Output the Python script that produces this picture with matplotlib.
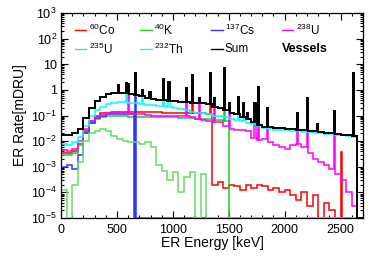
import numpy as np
import matplotlib
matplotlib.use('Agg')
import matplotlib.pyplot as plt
from matplotlib.lines import Line2D

plt.rcParams['font.family'] = 'Liberation Sans'
plt.rcParams['mathtext.fontset'] = 'custom'
plt.rcParams['mathtext.rm'] = 'Liberation Sans'
plt.rcParams['mathtext.it'] = 'Liberation Sans:italic'
plt.rcParams['mathtext.bf'] = 'Liberation Sans:bold'

# 50 keV bins from 0 to 2700 keV, rates in mDRU (0 = empty bin)
bin_edges = np.arange(0, 2701, 50)

co60 = [0.0035, 0.0035, 0.004, 0.008, 0.025, 0.06, 0.1, 0.12, 0.13, 0.14,
        0.14, 0.14, 0.14, 0.14, 0.14, 0.14, 0.135, 0.135, 0.13, 0.13,
        0.13, 0.13, 0.125, 0.12, 0.12, 0.12, 0.115, 0.0002, 0.00025, 0.00015,
        0.0002, 0.00018, 0.00012, 0.0002, 0.00015, 0.0002, 0.00018, 0.00012, 0.00015, 0.0001,
        0.00012, 0.00008, 0.00005, 0.0001, 0.00003, 0.00008, 0, 0.00004, 0.00002, 0,
        0, 0, 0, 0]
k40 = [0.0028, 0.003, 0.0035, 0.007, 0.02, 0.05, 0.075, 0.09, 0.095, 0.095,
       0.095, 0.095, 0.09, 0.09, 0.09, 0.09, 0.088, 0.088, 0.085, 0.085,
       0.085, 0.082, 0.08, 0.078, 0.075, 0.072, 0.07, 0.068, 0.065, 0.06,
       0, 0, 0, 0, 0, 0, 0, 0, 0, 0,
       0, 0, 0, 0, 0, 0, 0, 0, 0, 0,
       0, 0, 0, 0]
cs137 = [0.001, 0.0012, 0.0008, 0.003, 0.02, 0.05, 0.08, 0.1, 0.11, 0.11,
         0.11, 0.11, 0.11, 0, 0, 0, 0, 0, 0, 0,
         0, 0, 0, 0, 0, 0, 0, 0, 0, 0,
         0, 0, 0, 0, 0, 0, 0, 0, 0, 0,
         0, 0, 0, 0, 0, 0, 0, 0, 0, 0,
         0, 0, 0, 0]
u238 = [0.0045, 0.004, 0.005, 0.01, 0.03, 0.06, 0.09, 0.11, 0.12, 0.12,
        0.12, 0.12, 0.115, 0.11, 0.11, 0.105, 0.1, 0.1, 0.1, 0.1,
        0.1, 0.1, 0.095, 0.09, 0.07, 0.065, 0.06, 0.058, 0.055, 0.04,
        0.03, 0.028, 0.026, 0.025, 0.013, 0.011, 0.012, 0.009, 0.007, 0.006,
        0.005, 0.007, 0.008, 0.006, 0.0035, 0.002, 0.0015, 0.0012, 0.0008, 0.0005,
        0.0003, 0.0001, 0.00003, 0]
u235 = [0.00012, 0, 0.0002, 0.0015, 0.01, 0.02, 0.025, 0.03, 0.025, 0.016,
        0.012, 0.01, 0.009, 0.009, 0.008, 0.009, 0.006, 0.0012, 0.0007, 0.0003,
        0.0006, 0.0001, 0.0004, 0.0006, 0, 0.0005, 0, 0, 0, 0,
        0, 0, 0, 0, 0, 0, 0, 0, 0, 0,
        0, 0, 0, 0, 0, 0, 0, 0, 0, 0,
        0, 0, 0, 0]
th232 = [0.008, 0.007, 0.009, 0.014, 0.04, 0.1, 0.16, 0.22, 0.28, 0.31,
         0.33, 0.33, 0.32, 0.3, 0.28, 0.26, 0.25, 0.24, 0.23, 0.22,
         0.2, 0.18, 0.16, 0.14, 0.13, 0.12, 0.11, 0.1, 0.095, 0.085,
         0.075, 0.068, 0.06, 0.052, 0.045, 0.038, 0.033, 0.03, 0.028, 0.027,
         0.026, 0.025, 0.024, 0.023, 0.022, 0.021, 0.02, 0.019, 0.019, 0.018,
         0.017, 0.016, 0.015, 0]
total = [0.017, 0.018, 0.02, 0.03, 0.08, 0.2, 0.38, 0.55, 0.68, 0.74,
         0.76, 0.75, 0.72, 0.66, 0.58, 0.5, 0.45, 0.42, 0.4, 0.38,
         0.36, 0.35, 0.34, 0.32, 0.31, 0.3, 0.28, 0.22, 0.2, 0.16,
         0.13, 0.11, 0.09, 0.07, 0.056, 0.042, 0.037, 0.035, 0.034, 0.033,
         0.031, 0.03, 0.028, 0.026, 0.025, 0.024, 0.022, 0.021, 0.02, 0.019,
         0.018, 0.017, 0.016, 0]

# gamma lines: (energy keV, bin height)
co60_peaks = [(1173, 3.0), (1332, 3.0), (2505, 0.0037)]
k40_peaks = [(1460, 6.5)]
cs137_peaks = [(662, 3.8)]
u238_peaks = [(609, 0.9), (1120, 0.8), (1238, 0.3), (1378, 0.3), (1509, 0.2),
              (1730, 0.15), (1764, 0.9), (1847, 0.12), (2118, 0.08),
              (2204, 0.4), (2448, 0.12)]
u235_peaks = []
th232_peaks = [(583, 1.0), (727, 0.5), (911, 1.5), (969, 1.0), (1588, 0.3),
               (1630, 0.15), (2614, 4.0)]
total_peaks = [(511, 1.6), (583, 1.9), (609, 1.7), (662, 4.5), (727, 1.0),
               (795, 0.8), (911, 2.6), (969, 2.0), (1120, 1.2), (1173, 3.8),
               (1238, 0.5), (1332, 4.5), (1378, 0.47), (1460, 7.0),
               (1509, 0.32), (1588, 0.52), (1630, 0.3), (1661, 0.13),
               (1730, 0.3), (1764, 1.25), (1847, 0.2), (2118, 0.13),
               (2204, 0.47), (2293, 0.047), (2448, 0.15), (2614, 4.6)]

ymin, ymax = 1e-5, 1e3
fine_edges = np.arange(0, 2701, 10)


def spectrum(base, peaks):
    fine = np.repeat(np.asarray(base, dtype=float), 5)
    for e, h in peaks:
        fine[int(e // 10)] = h
    return np.where(fine > 0, fine, ymin)


series = [
    ('$^{60}$Co', co60, co60_peaks, '#ff0000'),
    ('$^{40}$K', k40, k40_peaks, '#22cc22'),
    ('$^{137}$Cs', cs137, cs137_peaks, '#3333ff'),
    ('$^{238}$U', u238, u238_peaks, '#ff00ff'),
    ('$^{235}$U', u235, u235_peaks, '#66dd66'),
    ('$^{232}$Th', th232, th232_peaks, '#00ffff'),
    ('Sum', total, total_peaks, '#000000'),
]

fig = plt.figure(figsize=(3.82, 2.6), dpi=100)
ax = fig.add_axes([0.16, 0.1615, 0.79, 0.7885])

for name, base, peaks, col in series:
    lw = 1.4 if name == 'Sum' else 1.1
    ax.stairs(spectrum(base, peaks), fine_edges, color=col, lw=lw, zorder=3)

ax.set_xlim(0, 2700)
ax.set_yscale('log')
ax.set_ylim(ymin, ymax)

ax.set_xticks([0, 500, 1000, 1500, 2000, 2500])
ax.set_xticks(np.arange(0, 2701, 100), minor=True)
ax.set_yticks([1e-5, 1e-4, 1e-3, 1e-2, 1e-1, 1, 10, 1e2, 1e3],
              ['$10^{-5}$', '$10^{-4}$', '$10^{-3}$', '$10^{-2}$', '$10^{-1}$',
               '1', '10', '$10^{2}$', '$10^{3}$'])
ax.tick_params(which='both', direction='in', top=True, right=True,
               labelsize=9, width=0.8)
ax.tick_params(which='major', length=5)
ax.tick_params(which='minor', length=2.5)
ax.tick_params(axis='x', pad=4)
ax.tick_params(axis='y', pad=3)
for s in ax.spines.values():
    s.set_linewidth(0.9)

ax.set_xlabel('ER Energy [keV]', fontsize=10, va='center')
ax.xaxis.set_label_coords(0.5, -0.123)
ax.set_ylabel('ER Rate[mDRU]', fontsize=10, va='center')
ax.yaxis.set_label_coords(-0.135, 0.5)

# legend, 4 columns x 2 rows
leg_x = [0.046, 0.262, 0.497, 0.732]
leg_y = [0.917, 0.824]
for i, (name, base, peaks, col) in enumerate(series):
    r, c = divmod(i, 4)
    x0, y0 = leg_x[c], leg_y[r]
    ax.add_line(Line2D([x0, x0 + 0.038], [y0, y0], color=col, lw=1.0,
                       transform=ax.transAxes, zorder=4))
    ax.text(x0 + 0.045, y0, name, transform=ax.transAxes, fontsize=8.5,
            va='center', ha='left', zorder=4)
ax.text(leg_x[3], leg_y[1], 'Vessels', transform=ax.transAxes, fontsize=9,
        fontweight='bold', va='center', ha='left', zorder=4)

fig.savefig('out.png', dpi=100)
